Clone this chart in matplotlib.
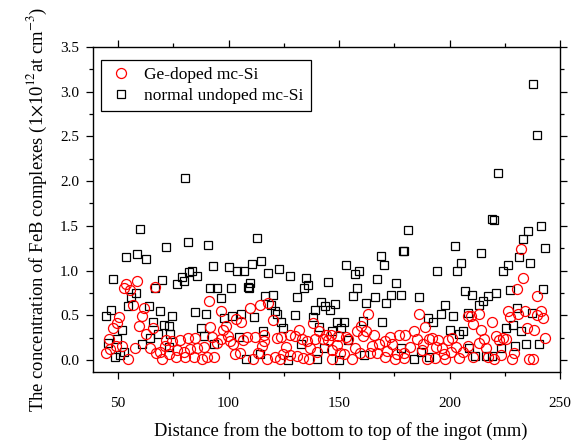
import numpy as np
import matplotlib
matplotlib.use('Agg')
from matplotlib import pyplot as plt
from matplotlib.ticker import MultipleLocator

plt.rcParams['font.family'] = ['Liberation Serif', 'DejaVu Serif']
plt.rcParams['mathtext.fontset'] = 'stix'

# Ge-doped mc-Si (red circles)
ge_x = [53.8, 58.6, 52.7, 55.6, 66.8, 56.8, 61.8, 50.6, 60.8, 49.5, 47.7, 59.7, 65.6, 62.6, 45.8, 71.7, 74.2, 49.0, 51.8, 46.4,
        44.4, 57.6, 64.4, 68.9, 73.2, 54.5, 69.7, 67.4, 71.2,
        91.1, 96.8, 109.5, 103.3, 105.5, 98.8, 97.4, 91.8, 84.7, 81.7, 78.2, 92.6, 96.4, 99.7, 100.6, 101.8, 94.8, 88.8, 85.8, 82.7,
        79.7, 76.7, 108.5, 106.7, 80.5, 84.2, 88.2, 93.3, 76.4, 102.9, 105.1, 90.3,
        118.0, 114.1, 119.9, 138.0, 132.0, 127.8, 130.2, 140.8, 112.0, 115.9, 121.9, 123.8, 133.2, 135.6, 139.0, 142.7, 144.2, 115.9,
        115.0, 126.0, 136.7, 140.0, 113.2, 124.7, 127.6, 130.8, 110.9, 117.3, 120.8, 123.2, 133.8, 136.5,
        163.0, 160.0, 157.9, 162.4, 166.0, 161.0, 146.4, 149.7, 153.3, 154.2, 144.8, 173.2, 177.0, 180.0, 164.9, 168.2, 170.6, 174.0,
        148.9, 157.0, 146.9, 150.6, 159.4, 167.1, 176.0, 171.8, 179.2, 146.7, 152.4, 155.8, 163.9, 170.6, 175.1,
        186.0, 208.2, 209.7, 213.2, 188.9, 210.6, 184.1, 185.3, 191.9, 194.9, 199.1, 201.0, 188.0, 190.8, 182.0, 193.8, 196.8, 202.9,
        208.2, 213.2, 179.4, 187.7, 197.6, 193.5, 198.0, 204.4, 206.2, 210.5, 190.0, 200.6,
        232.4, 233.0, 230.3, 239.4, 226.4, 234.2, 241.2, 231.0, 227.3, 239.7, 242.4, 219.1, 235.1, 238.2, 214.2, 243.3, 220.9, 224.2,
        225.5, 222.4, 215.5, 216.4, 229.1, 223.3, 217.6, 220.3, 228.2, 236.0, 237.6]
ge_y = [0.85, 0.88, 0.80, 0.78, 0.82, 0.62, 0.58, 0.48, 0.49, 0.41, 0.36, 0.38, 0.36, 0.29, 0.24, 0.22, 0.21, 0.16, 0.16, 0.12,
        0.08, 0.13, 0.14, 0.09, 0.07, 0.01, 0.01, 0.08, 0.16,
        0.66, 0.55, 0.58, 0.46, 0.43, 0.38, 0.34, 0.37, 0.25, 0.25, 0.22, 0.26, 0.24, 0.27, 0.21, 0.18, 0.19, 0.15, 0.13, 0.12,
        0.09, 0.11, 0.26, 0.22, 0.04, 0.04, 0.01, 0.04, 0.04, 0.07, 0.08, 0.04,
        0.64, 0.61, 0.45, 0.41, 0.34, 0.28, 0.27, 0.32, 0.26, 0.28, 0.25, 0.26, 0.23, 0.21, 0.23, 0.23, 0.28, 0.21,
        0.16, 0.15, 0.13, 0.09, 0.08, 0.07, 0.06, 0.05, 0.01, 0.01, 0.03, 0.01, 0.02, 0.01,
        0.52, 0.38, 0.33, 0.33, 0.28, 0.27, 0.28, 0.27, 0.26, 0.24, 0.22, 0.26, 0.28, 0.28, 0.16, 0.18, 0.21, 0.18,
        0.17, 0.13, 0.11, 0.08, 0.08, 0.08, 0.07, 0.10, 0.08, 0.01, 0.07, 0.01, 0.08, 0.03, 0.01,
        0.52, 0.49, 0.49, 0.51, 0.37, 0.40, 0.32, 0.24, 0.25, 0.22, 0.22, 0.25, 0.18, 0.24, 0.15, 0.15, 0.13, 0.15,
        0.16, 0.19, 0.02, 0.11, 0.07, 0.02, 0.01, 0.02, 0.09, 0.04, 0.01, 0.09,
        1.24, 0.92, 0.79, 0.72, 0.55, 0.55, 0.55, 0.52, 0.48, 0.50, 0.47, 0.43, 0.36, 0.34, 0.34, 0.25, 0.27, 0.25,
        0.23, 0.22, 0.24, 0.13, 0.08, 0.06, 0.04, 0.01, 0.01, 0.01, 0.01]

# normal undoped mc-Si (black squares)
un_x = [59.9, 71.7, 53.6, 58.8, 62.6, 47.7, 69.9, 66.7, 58.0, 55.8, 54.7, 46.7, 44.7, 63.8, 68.9, 74.2, 65.9, 70.8, 73.0, 51.8,
        67.9, 73.5, 49.7, 64.4, 45.6, 61.0, 52.7, 50.8, 48.6, 73.2,
        81.8, 90.9, 92.9, 100.0, 103.9, 107.0, 110.8, 83.6, 82.1, 85.8, 79.1, 80.0, 76.7, 91.8, 94.8, 100.9, 108.8, 96.7, 84.8, 89.9,
        97.9, 101.7, 105.8, 87.6, 88.8, 104.9, 93.3, 107.7,
        112.9, 114.9, 118.0, 123.0, 127.9, 135.0, 135.9, 134.1, 109.9, 109.4, 116.7, 119.9, 130.9, 145.0, 141.7, 143.8, 139.0, 119.0,
        121.0, 121.9, 111.7, 129.9, 138.2, 123.8, 124.7, 140.8, 115.8, 132.9, 114.1, 126.8, 139.9, 143.2,
        169.1, 178.8, 170.3, 153.0, 159.1, 157.0, 167.1, 175.9, 158.2, 156.1, 166.1, 173.3, 178.2, 162.1, 171.2, 148.2, 145.9, 149.0,
        152.1, 150.8, 160.8, 169.6, 146.7, 154.2, 178.2, 161.5, 150.0,
        181.2, 202.3, 179.4, 214.1, 205.3, 203.2, 194.1, 186.2, 207.1, 210.1, 215.0, 213.2, 198.0, 208.3, 196.2, 201.4, 190.1, 192.3,
        200.1, 206.2, 204.1, 187.0, 184.1, 211.7, 190.8, 208.9,
        219.1, 220.3, 241.4, 235.5, 233.3, 243.3, 231.4, 236.4, 226.4, 224.2, 227.3, 242.4, 221.2, 217.3, 230.3, 237.3, 228.5, 225.5,
        232.4, 229.4, 234.5, 240.3, 223.3, 216.7, 219.1,
        80.5, 222.0, 237.7, 239.5]
un_y = [1.46, 1.26, 1.15, 1.19, 1.13, 0.91, 0.89, 0.80, 0.75, 0.71, 0.60, 0.56, 0.49, 0.60, 0.55, 0.49, 0.42, 0.39, 0.38, 0.34,
        0.29, 0.29, 0.23, 0.25, 0.19, 0.18, 0.09, 0.06, 0.03, 0.15,
        1.32, 1.29, 1.05, 1.04, 1.00, 0.99, 1.07, 1.00, 0.98, 0.94, 0.93, 0.88, 0.85, 0.80, 0.80, 0.81, 0.82, 0.69, 0.54, 0.52,
        0.47, 0.49, 0.52, 0.36, 0.27, 0.26, 0.18, 0.01,
        1.36, 1.11, 0.97, 1.02, 0.94, 0.92, 0.84, 0.81, 0.86, 0.80, 0.72, 0.73, 0.70, 0.87, 0.65, 0.60, 0.56, 0.62,
        0.55, 0.51, 0.48, 0.50, 0.48, 0.43, 0.36, 0.37, 0.32, 0.18, 0.07, 0.00, 0.01, 0.14,
        1.16, 1.22, 1.06, 1.06, 0.99, 0.96, 0.91, 0.86, 0.81, 0.72, 0.71, 0.73, 0.73, 0.64, 0.64, 0.63, 0.56, 0.43,
        0.43, 0.36, 0.44, 0.43, 0.32, 0.22, 0.13, 0.06, 0.00,
        1.45, 1.28, 1.22, 1.20, 1.09, 1.00, 0.99, 0.71, 0.77, 0.73, 0.66, 0.62, 0.61, 0.53, 0.51, 0.49, 0.47, 0.42,
        0.34, 0.32, 0.29, 0.09, 0.01, 0.05, 0.03, 0.14,
        1.58, 1.56, 1.50, 1.44, 1.35, 1.25, 1.15, 1.09, 1.06, 0.99, 0.78, 0.79, 0.75, 0.72, 0.58, 0.53, 0.39, 0.36,
        0.32, 0.16, 0.18, 0.18, 0.13, 0.05, 0.05,
        2.04, 2.09, 3.09, 2.52]

fig = plt.figure(figsize=(5.78, 4.42), dpi=100)
ax = fig.add_axes([0.161, 0.158, 0.808, 0.736])

ax.plot(un_x, un_y, 's', ms=6, mfc='none', mec='black', mew=0.9, label='normal undoped mc-Si')
ax.plot(ge_x, ge_y, 'o', ms=7.2, mfc='none', mec='red', mew=0.9, label='Ge-doped mc-Si')

ax.set_xlim(38.7, 250)
ax.set_ylim(-0.135, 3.5)
ax.xaxis.set_major_locator(MultipleLocator(50))
ax.xaxis.set_minor_locator(MultipleLocator(25))
ax.yaxis.set_major_locator(MultipleLocator(0.5))
ax.yaxis.set_minor_locator(MultipleLocator(0.25))
ax.yaxis.set_major_formatter(matplotlib.ticker.FormatStrFormatter('%.1f'))
ax.tick_params(which='major', direction='out', length=5, width=0.9, labelsize=11, top=True, right=True)
ax.tick_params(axis='x', which='major', pad=13)
ax.tick_params(axis='y', which='major', pad=5)
ax.tick_params(which='minor', direction='out', length=3, width=0.9, top=True, right=True)
for s in ax.spines.values():
    s.set_linewidth(1.0)

ax.set_xlabel('Distance from the bottom to top of the ingot (mm)', fontsize=13.3)
ax.xaxis.set_label_coords(0.531, -0.152)
ax.set_ylabel(r'The concentration of FeB complexes (1$\times$10$^{12}$at cm$^{-3}$)', fontsize=13.4, labelpad=8)

h, l = ax.get_legend_handles_labels()
leg = ax.legend(h[::-1], l[::-1], loc='upper left', bbox_to_anchor=(0.017, 0.96), borderaxespad=0,
                fontsize=12.5, fancybox=False, framealpha=1, edgecolor='black', handletextpad=0.6,
                borderpad=0.4, labelspacing=0.3, handlelength=1.5)
leg.get_frame().set_linewidth(0.9)

plt.savefig('out.png', dpi=100)
